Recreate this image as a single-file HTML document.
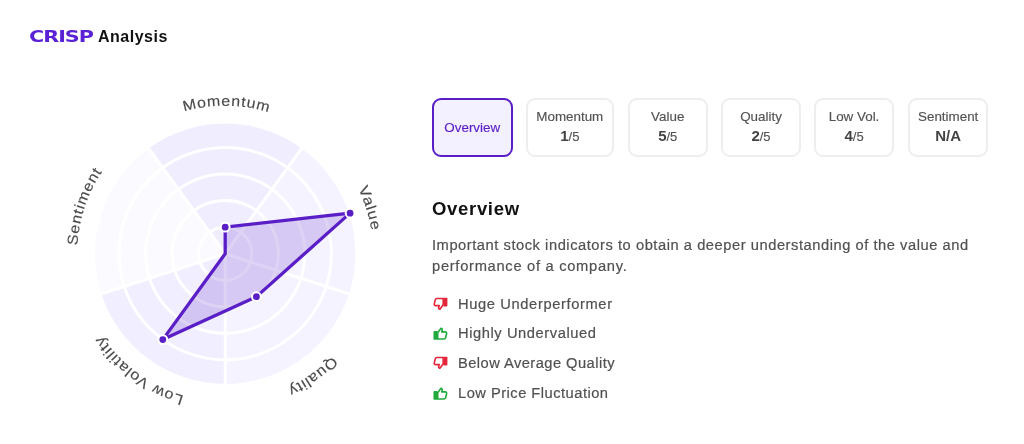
<!DOCTYPE html>
<html lang="en">
<head>
<meta charset="utf-8">
<title>CRISP Analysis</title>
<style>
*{box-sizing:border-box}
html,body{margin:0;padding:0;background:#fff}
body{width:1024px;height:444px;position:relative;overflow:hidden;font-family:"Liberation Sans",sans-serif;color:#555}
.hdr{position:absolute;left:30px;top:26.8px;height:20px;white-space:nowrap}
.logo{position:absolute;left:-.9px;top:.2px;font-family:"DejaVu Sans","Liberation Sans",sans-serif;font-weight:700;font-size:16.5px;line-height:20px;color:#5b21d4;transform-origin:0 50%;transform:scaleX(1.255);letter-spacing:-.8px}
.ttl{position:absolute;left:68px;top:0;font-weight:700;font-size:16px;line-height:20px;color:#111;letter-spacing:.5px}
svg.chart{position:absolute;left:0;top:0;width:430px;height:444px}
.lbl{font-family:"Liberation Sans",sans-serif;font-size:14.5px;fill:#4a4a4a;letter-spacing:.75px;stroke:#4a4a4a;stroke-width:.15px}
.tabs{position:absolute;left:432px;top:98px;display:flex}
.tab{height:59px;width:80px;border:2px solid #eee;border-radius:9px;background:#fff;display:flex;flex-direction:column;align-items:center;justify-content:center;font-size:13.4px;line-height:18px;color:#535353;white-space:nowrap;-webkit-text-stroke:.15px currentColor}
.tab.on{border-color:#5a1ec6;background:#f3f0ff;color:#5a1ec6}
.tab b{font-size:15px;color:#444;-webkit-text-stroke:0}
.tab .sc{font-size:13px;line-height:20px}
h2{position:absolute;left:432px;top:197.2px;margin:0;font-size:18.5px;line-height:24px;font-weight:700;color:#111;letter-spacing:.68px}
p{position:absolute;left:432px;top:234.6px;margin:0;width:560px;font-size:14.7px;line-height:21.3px;color:#515151;letter-spacing:.54px;-webkit-text-stroke:.2px #515151}
ul{position:absolute;left:432px;top:288.8px;margin:0;padding:0;list-style:none}
li{height:29.75px;display:flex;align-items:center;font-size:14.7px;color:#515151;letter-spacing:.62px;-webkit-text-stroke:.2px #515151}
li svg{width:16px;height:16px;margin-right:10px;flex:none}
</style>
</head>
<body>
<div class="hdr"><span class="logo">CRISP</span><span class="ttl">Analysis</span></div>
<svg class="chart" viewBox="0 0 430 444">
<path d="M225.2 253.7L148.70 148.41A130.15 130.15 0 0 1 301.70 148.41Z" fill="#f0edff"/>
<path d="M225.2 253.7L301.70 148.41A130.15 130.15 0 0 1 348.98 293.92Z" fill="#f5f3ff"/>
<path d="M225.2 253.7L348.98 293.92A130.15 130.15 0 0 1 225.20 383.85Z" fill="#f5f3ff"/>
<path d="M225.2 253.7L225.20 383.85A130.15 130.15 0 0 1 101.42 293.92Z" fill="#f1eeff"/>
<path d="M225.2 253.7L101.42 293.92A130.15 130.15 0 0 1 148.70 148.41Z" fill="#fbfaff"/>
<circle cx="225.2" cy="253.7" r="26.55" fill="none" stroke="#fff" stroke-width="3"/>
<circle cx="225.2" cy="253.7" r="53.10" fill="none" stroke="#fff" stroke-width="3"/>
<circle cx="225.2" cy="253.7" r="79.65" fill="none" stroke="#fff" stroke-width="3"/>
<circle cx="225.2" cy="253.7" r="106.20" fill="none" stroke="#fff" stroke-width="3"/>
<line x1="225.2" y1="253.7" x2="302.88" y2="146.79" stroke="#fff" stroke-width="3"/>
<line x1="225.2" y1="253.7" x2="350.88" y2="294.54" stroke="#fff" stroke-width="3"/>
<line x1="225.2" y1="253.7" x2="225.20" y2="385.85" stroke="#fff" stroke-width="3"/>
<line x1="225.2" y1="253.7" x2="99.52" y2="294.54" stroke="#fff" stroke-width="3"/>
<line x1="225.2" y1="253.7" x2="147.52" y2="146.79" stroke="#fff" stroke-width="3"/>
<polygon points="225.20,227.15 350.07,213.13 256.41,296.66 162.78,339.62 225.20,253.70" fill="rgba(91,33,200,0.2)" stroke="#5a1ec6" stroke-width="3.3" stroke-linejoin="miter" stroke-miterlimit="3"/>
<circle cx="225.20" cy="227.15" r="4.4" fill="#5a1ec6" stroke="#fff" stroke-width="2"/>
<circle cx="350.07" cy="213.13" r="4.4" fill="#5a1ec6" stroke="#fff" stroke-width="2"/>
<circle cx="256.41" cy="296.66" r="4.4" fill="#5a1ec6" stroke="#fff" stroke-width="2"/>
<circle cx="162.78" cy="339.62" r="4.4" fill="#5a1ec6" stroke="#fff" stroke-width="2"/>
<defs><path id="lp" d="M225.2 401.7A148 148 0 1 1 225.2 105.69999999999999A148 148 0 1 1 225.2 401.7A148 148 0 1 1 225.2 105.69999999999999A148 148 0 1 1 225.2 401.7"/></defs>
<text class="lbl"><textPath href="#lp" startOffset="466.16" text-anchor="middle" textLength="86.37" lengthAdjust="spacingAndGlyphs">Momentum</textPath></text>
<text class="lbl"><textPath href="#lp" startOffset="652.14" text-anchor="middle" textLength="44.91" lengthAdjust="spacingAndGlyphs">Value</textPath></text>
<text class="lbl"><textPath href="#lp" startOffset="838.12" text-anchor="middle" textLength="55.41" lengthAdjust="spacingAndGlyphs">Quality</textPath></text>
<text class="lbl"><textPath href="#lp" startOffset="94.19" text-anchor="middle" textLength="104.62" lengthAdjust="spacingAndGlyphs">Low Volatility</textPath></text>
<text class="lbl"><textPath href="#lp" startOffset="280.17" text-anchor="middle" textLength="79.23" lengthAdjust="spacingAndGlyphs">Sentiment</textPath></text>
</svg>
<div class="tabs">
<div class="tab on" style="width:80.5px;margin-left:0.0px;height:59.3px">Overview</div>
<div class="tab" style="width:88.2px;margin-left:13.2px"><span>Momentum</span><span class="sc"><b>1</b>/5</span></div>
<div class="tab" style="width:79.7px;margin-left:14.0px"><span>Value</span><span class="sc"><b>5</b>/5</span></div>
<div class="tab" style="width:79.3px;margin-left:13.8px"><span>Quality</span><span class="sc"><b>2</b>/5</span></div>
<div class="tab" style="width:79.4px;margin-left:13.7px"><span>Low Vol.</span><span class="sc"><b>4</b>/5</span></div>
<div class="tab" style="width:80.5px;margin-left:14.2px"><span>Sentiment</span><span class="sc"><b>N/A</b></span></div>
</div>
<h2>Overview</h2>
<p>Important stock indicators to obtain a deeper understanding of the value and <span style="letter-spacing:.71px">performance of a company.</span></p>
<ul>
<li><svg viewBox="0 0 16 16"><g transform="translate(.5 .1) rotate(180 8 8)"><path d="M5.3 7.3 L8.6 2.9 C9.7 2.9 10.1 3.7 9.8 4.7 L9.3 6.5 H12.9 C13.9 6.5 14.5 7.3 14.2 8.3 L13.2 12.4 C13 13.2 12.4 13.6 11.6 13.6 H5.3 Z" fill="none" stroke="#e3263a" stroke-width="1.6" stroke-linejoin="round" stroke-linecap="round"/><rect x="1.1" y="5.6" width="4.1" height="8.8" rx="0.9" fill="#e3263a"/></g></svg><span>Huge Underperformer</span></li>
<li><svg viewBox="0 0 16 16"><g transform="translate(.4 .4)"><path d="M5.3 7.3 L8.6 2.9 C9.7 2.9 10.1 3.7 9.8 4.7 L9.3 6.5 H12.9 C13.9 6.5 14.5 7.3 14.2 8.3 L13.2 12.4 C13 13.2 12.4 13.6 11.6 13.6 H5.3 Z" fill="none" stroke="#1faa3c" stroke-width="1.6" stroke-linejoin="round" stroke-linecap="round"/><rect x="1.1" y="5.6" width="4.1" height="8.8" rx="0.9" fill="#1faa3c"/></g></svg><span style="letter-spacing:.57px">Highly Undervalued</span></li>
<li><svg viewBox="0 0 16 16"><g transform="translate(.5 .1) rotate(180 8 8)"><path d="M5.3 7.3 L8.6 2.9 C9.7 2.9 10.1 3.7 9.8 4.7 L9.3 6.5 H12.9 C13.9 6.5 14.5 7.3 14.2 8.3 L13.2 12.4 C13 13.2 12.4 13.6 11.6 13.6 H5.3 Z" fill="none" stroke="#e3263a" stroke-width="1.6" stroke-linejoin="round" stroke-linecap="round"/><rect x="1.1" y="5.6" width="4.1" height="8.8" rx="0.9" fill="#e3263a"/></g></svg><span style="letter-spacing:.45px">Below Average Quality</span></li>
<li><svg viewBox="0 0 16 16"><g transform="translate(.4 .4)"><path d="M5.3 7.3 L8.6 2.9 C9.7 2.9 10.1 3.7 9.8 4.7 L9.3 6.5 H12.9 C13.9 6.5 14.5 7.3 14.2 8.3 L13.2 12.4 C13 13.2 12.4 13.6 11.6 13.6 H5.3 Z" fill="none" stroke="#1faa3c" stroke-width="1.6" stroke-linejoin="round" stroke-linecap="round"/><rect x="1.1" y="5.6" width="4.1" height="8.8" rx="0.9" fill="#1faa3c"/></g></svg><span style="letter-spacing:.48px">Low Price Fluctuation</span></li>
</ul>
</body>
</html>
